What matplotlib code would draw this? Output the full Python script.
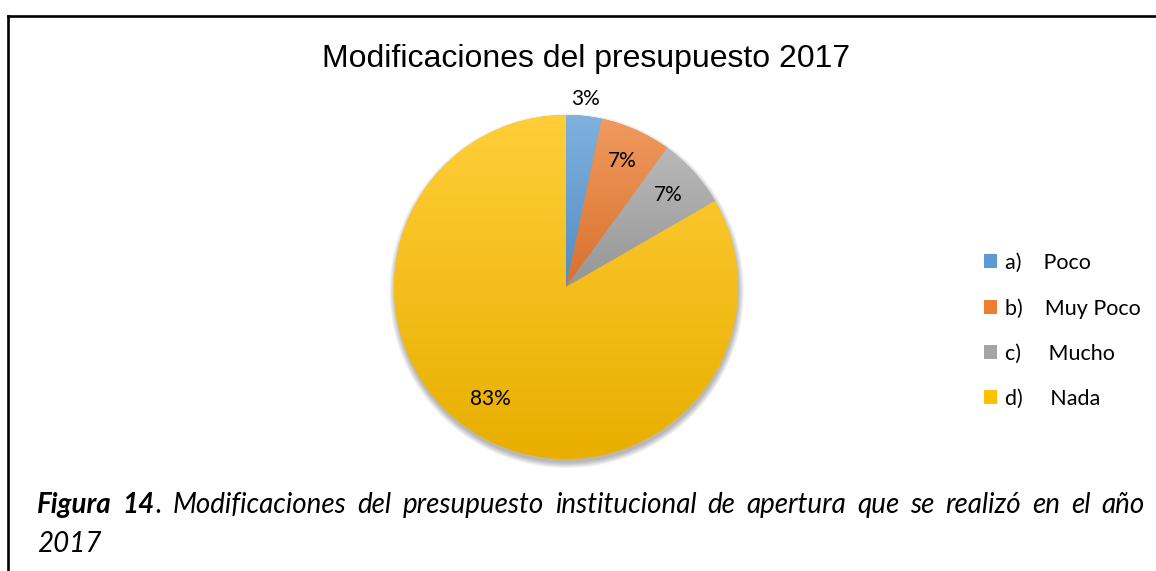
import numpy as np
import matplotlib
matplotlib.use("Agg")
import matplotlib.pyplot as plt
from matplotlib.colors import to_rgb
from matplotlib.lines import Line2D
from matplotlib.patches import Circle

W, H = 1156, 571

# data
labels = ["a)    Poco", "b)    Muy Poco", "c)     Mucho", "d)     Nada"]
counts = [1, 2, 2, 25]
colors = ["#5B9BD5", "#ED7D31", "#A5A5A5", "#FFC000"]
title = "Modificaciones del presupuesto 2017"
caption_bold = ["Figura", "14"]
caption_words = ["Modificaciones", "del", "presupuesto", "institucional", "de",
                 "apertura", "que", "se", "realizó", "en", "el", "año"]
caption_line2 = "2017"

fig = plt.figure(figsize=(W / 100, H / 100), dpi=100)

def fx(px):
    return px / W

def fy(py):
    return 1 - py / H

# frame lines (top and left)
fig.add_artist(Line2D([fx(8), 1], [fy(16), fy(16)], color="black", lw=1.9))
fig.add_artist(Line2D([fx(8), fx(8)], [fy(16), 0], color="black", lw=1.9))

fig.text(fx(586), fy(67), title, ha="center", va="baseline",
         fontsize=23, family="Liberation Sans")

cx, cy, R = 566, 287, 172
pad = 1.1
ax = fig.add_axes([fx(cx - R * pad), fy(cy + R * pad), 2 * R * pad / W, 2 * R * pad / H])

# soft shadow
for k in range(6):
    ax.add_patch(Circle((0.004, -0.022), 1.0 + 0.006 * k, color="black",
                        alpha=0.05, lw=0, zorder=0))

wedges, texts, autotexts = ax.pie(
    counts, colors=colors, startangle=90, counterclock=False,
    autopct=lambda p: f"{p:.0f}%", pctdistance=0.8,
    textprops=dict(family="Lato", fontsize=15, color="black"))

# gradient fill inside each wedge
for w, c in zip(wedges, colors):
    base = np.array(to_rgb(c))
    top = base + (1 - base) * 0.22
    bot = base * 0.91
    t = np.linspace(0, 1, 64)[:, None]
    grad = (top[None, :] * (1 - t) + bot[None, :] * t)[:, None, :]
    x0, y0, x1, y1 = w.get_path().get_extents().extents
    im = ax.imshow(grad, extent=(x0, x1, y0, y1), origin="upper",
                   aspect="auto", zorder=1.5, interpolation="bilinear")
    im.set_clip_path(w)
for a in autotexts:
    a.set_zorder(3)

# first label sits outside the pie
ang = np.deg2rad(90 - 360 * counts[0] / sum(counts) / 2)
autotexts[0].set_position((1.1 * np.cos(ang), 1.1 * np.sin(ang)))
# nudge the big slice label
ang = np.deg2rad(90 - 360 * (sum(counts[:3]) + counts[3] / 2) / sum(counts))
autotexts[3].set_position((0.8 * np.cos(ang) - 0.04, 0.8 * np.sin(ang) + 0.04))

ax.set_xlim(-pad, pad)
ax.set_ylim(-pad, pad)
ax.set_aspect("equal")
ax.axis("off")

fig.legend(wedges, labels, loc="upper left",
           bbox_to_anchor=(fx(984), fy(253)), frameon=False,
           prop=dict(family="Lato", size=15.5), handlelength=0.62,
           handleheight=0.62, handletextpad=0.35, labelspacing=1.16,
           borderpad=0, borderaxespad=0)

# justified caption, first line
renderer = fig.canvas.get_renderer()
cap_size = 20
x_left, x_right, base1 = 37, 1145, 513
tokens = []
for wd in caption_bold:
    tokens.append([(wd, "bold")])
tokens[-1].append((".", "normal"))
for wd in caption_words:
    tokens.append([(wd, "normal")])

widths = []
for tok in tokens:
    tw = 0
    for s, wt in tok:
        t = fig.text(0, 0, s, fontsize=cap_size, family="Lato", style="italic",
                     weight=wt)
        tw += t.get_window_extent(renderer).width
        t.remove()
    widths.append(tw)
gap = (x_right - x_left - sum(widths)) / (len(tokens) - 1)
x = x_left
for tok, tw in zip(tokens, widths):
    xx = x
    for s, wt in tok:
        t = fig.text(fx(xx), fy(base1), s, fontsize=cap_size, family="Lato",
                     style="italic", weight=wt, va="baseline")
        xx += t.get_window_extent(renderer).width
    x += tw + gap

fig.text(fx(x_left), fy(552), caption_line2, fontsize=cap_size, family="Lato",
         style="italic", va="baseline")

fig.savefig("out.png", dpi=100)
